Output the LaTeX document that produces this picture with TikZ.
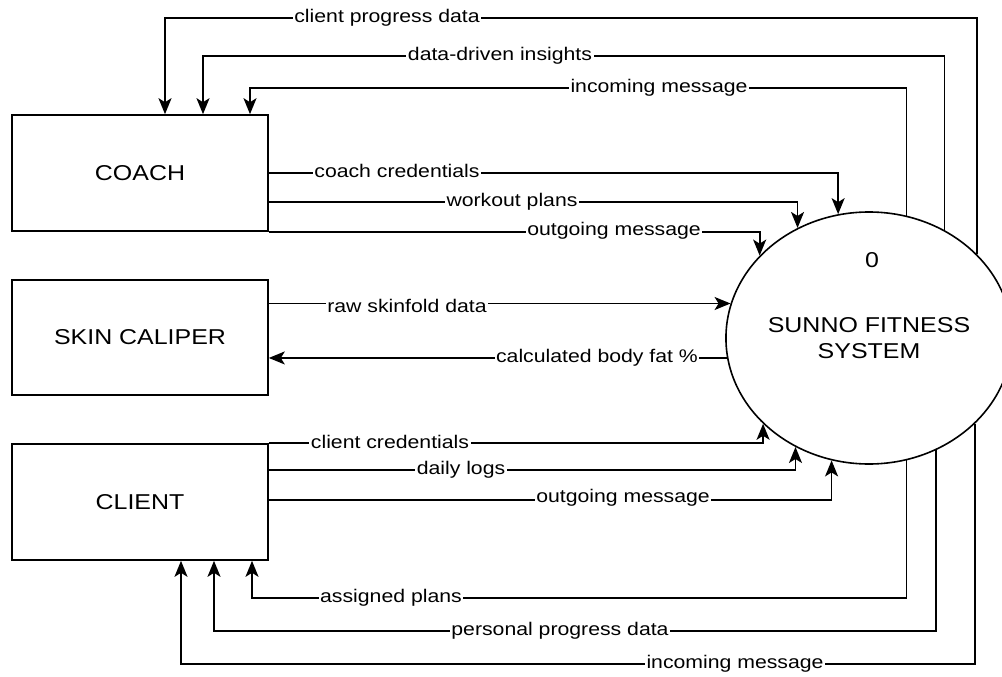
\documentclass[tikz,border=0pt]{standalone}
\usepackage{fontspec}
\setmainfont{Liberation Sans}[FakeStretch=1.16]
\usetikzlibrary{arrows.meta,shapes.geometric}
\begin{document}
\begin{tikzpicture}[x=1pt,y=-1pt,
  entity/.style={draw, line width=1.6pt, minimum width=256pt, inner sep=0pt,
    font=\fontsize{21.5}{26}\selectfont},
  process/.style={draw, ellipse, line width=1.6pt, minimum width=266pt,
    minimum height=252pt, inner sep=0pt, align=center,
    font=\fontsize{21.5}{26}\selectfont},
  flow/.style={line width=1.8pt, -{Stealth[length=16pt,width=13pt,inset=4pt]}},
  lbl/.style={fill=white, inner xsep=1.5pt, inner ysep=2pt, text height=9.5pt,
    text depth=0pt, font=\fontsize{18.3}{22}\selectfont}
]
\useasboundingbox (0,0) rectangle (1002,677);

% external entities and the process
\node[entity, minimum height=116pt] (coach)   at (140,173)   {COACH};
\node[entity, minimum height=115pt] (caliper) at (140,337.5) {SKIN CALIPER};
\node[entity, minimum height=116pt] (client)  at (140,502)   {CLIENT};
\node[process] (sys) at (869,338) {SUNNO FITNESS\\SYSTEM};
\node[font=\fontsize{21.5}{26}\selectfont] (sysid) at (872,260) {0};

% coach -> system
\draw[flow] (coach.east) -| (sys.104.2);
\draw[flow] (coach.east |- 0,202) -| (sys.123.2);
\draw[flow] (coach.south east) -| (sys.143);

% system -> coach
\draw[flow] (sys.38.4) |- (165,18) -- (165,0 |- coach.north);
\draw[flow] (sys.55.8) |- (203,56) -- (203,0 |- coach.north);
\draw[flow] (sys.73)   |- (250,88) -- (250,0 |- coach.north);

% skin caliper <-> system
\draw[flow] (caliper.east |- sys.166.9) -- (sys.166.9);
\draw[flow] (sys.188.7) -- (caliper.east |- sys.188.7);

% client -> system
\draw[flow] (client.north east) -| (sys.219.7);
\draw[flow] (client.east |- 0,470) -| (sys.236.8);
\draw[flow] (client.east |- 0,500) -| (sys.253.9);

% system -> client
\draw[flow] (sys.287)   |- (252,598) -- (252,0 |- client.south);
\draw[flow] (sys.301.1) |- (214,631) -- (214,0 |- client.south);
\draw[flow] (sys.321.6) |- (181,664) -- (181,0 |- client.south);

% flow labels
\node[lbl] (lcpd)  at (387,18)  {client progress data};
\node[lbl] (lddi)  at (500,56)  {data-driven insights};
\node[lbl] (lcin)  at (659,88)  {incoming message};
\node[lbl] (lcc)   at (397,173) {coach credentials};
\node[lbl] (lwp)   at (512,202) {workout plans};
\node[lbl] (lcout) at (614,231) {outgoing message};
\node[lbl] (lraw)  at (407,308) {raw skinfold data};
\node[lbl] (lbf)   at (597,358) {calculated body fat \%};
\node[lbl] (lclc)  at (390,444) {client credentials};
\node[lbl] (ldl)   at (461,470) {daily logs};
\node[lbl] (lkout) at (623,498) {outgoing message};
\node[lbl] (lap)   at (391,598) {assigned plans};
\node[lbl] (lppd)  at (560,631) {personal progress data};
\node[lbl] (lkin)  at (735,664) {incoming message};
\end{tikzpicture}
\end{document}
